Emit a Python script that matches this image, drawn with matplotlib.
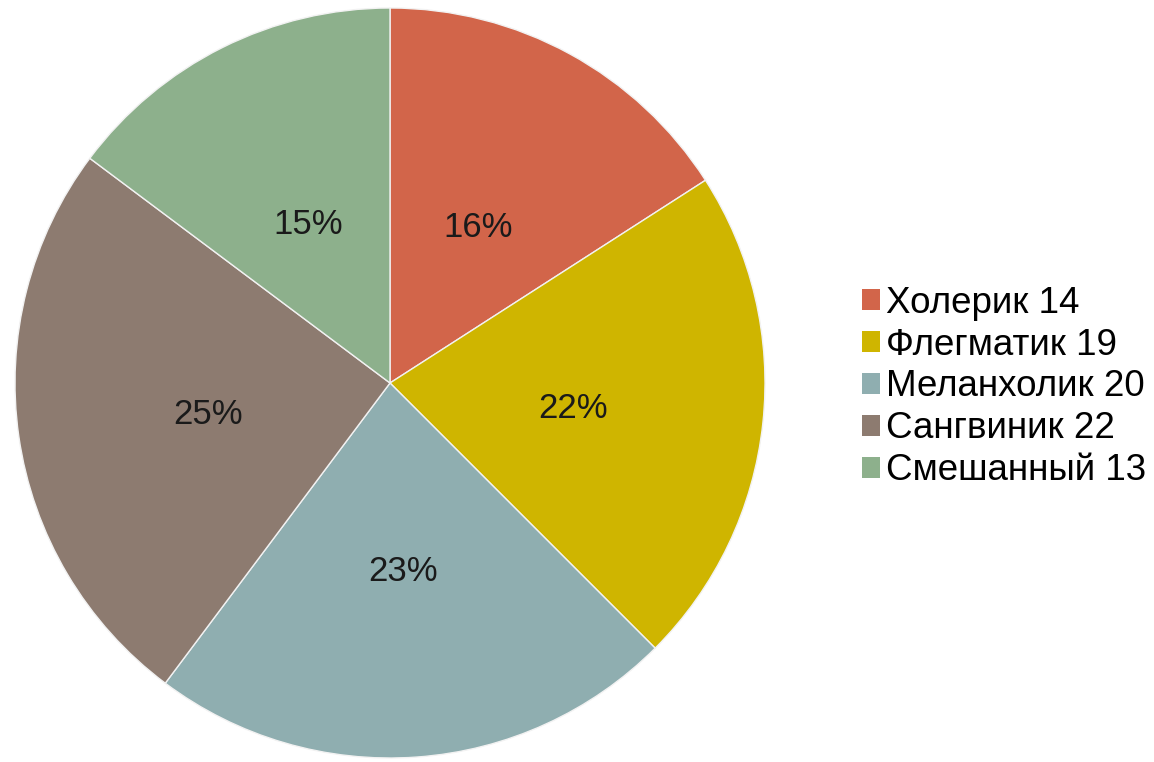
import matplotlib
matplotlib.use('Agg')
import matplotlib.pyplot as plt

# Данные диаграммы
names = ['Холерик', 'Флегматик', 'Меланхолик', 'Сангвиник', 'Смешанный']
counts = [14, 19, 20, 22, 13]
colors = ['#D2654A', '#CFB500', '#8FAEB0', '#8D7B70', '#8DB08C']

plt.rcParams['font.family'] = ['Liberation Sans', 'DejaVu Sans']

W, H = 1154, 762
fig = plt.figure(figsize=(W / 100, H / 100), dpi=100)

# Круг: центр (390, 383), радиус 375 px
cx, cy, r = 390, 383, 375
ax = fig.add_axes([(cx - r) / W, (H - cy - r) / H, 2 * r / W, 2 * r / H])

wedges, texts, autotexts = ax.pie(
    counts,
    colors=colors,
    startangle=90,
    counterclock=False,
    autopct='%1.0f%%',
    pctdistance=0.49,
    radius=1.0,
    wedgeprops=dict(edgecolor='#F2F2F2', linewidth=1.0),
    textprops=dict(fontsize=25, color='#1A1A1A'),
)
# подписи чуть ниже, как в оригинале
for t in autotexts:
    x, y = t.get_position()
    t.set_position((x, y - 0.015))

ax.set_xlim(-1, 1)
ax.set_ylim(-1, 1)
ax.set_aspect('equal')
ax.axis('off')

labels = [f'{n} {c}' for n, c in zip(names, counts)]
fig.legend(
    wedges, labels,
    loc='center left',
    bbox_to_anchor=(862 / W, 1 - 387 / H),
    frameon=False,
    fontsize=26.5,
    handlelength=0.5,
    handleheight=0.5,
    handletextpad=0.15,
    labelspacing=0.19,
    borderaxespad=0,
    borderpad=0,
)
for h in fig.legends[0].legend_handles:
    h.set_edgecolor('none')

fig.savefig('out.png', dpi=100, facecolor='white')
plt.close(fig)
